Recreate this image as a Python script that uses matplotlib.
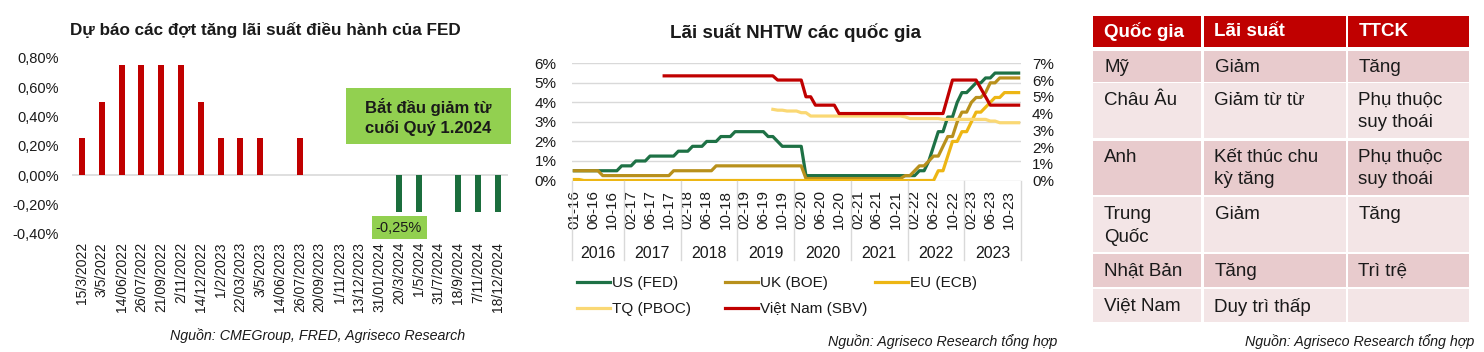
import numpy as np
import pandas as pd
import matplotlib
matplotlib.use('Agg')
import matplotlib.pyplot as plt
from matplotlib.patches import Rectangle
from matplotlib.lines import Line2D
import matplotlib.transforms as mtransforms

plt.rcParams['font.family'] = ['Liberation Sans', 'DejaVu Sans']

# ---- left chart: FED rate moves per meeting
fed_dates = ['15/3/2022', '3/5/2022', '14/06/2022', '26/07/2022', '21/09/2022', '2/11/2022',
             '14/12/2022', '1/2/2023', '22/03/2023', '3/5/2023', '14/06/2023', '26/07/2023',
             '20/09/2023', '1/11/2023', '13/12/2023', '31/01/2024', '20/3/2024', '1/5/2024',
             '31/7/2024', '18/9/2024', '7/11/2024', '18/12/2024']
fed_moves = [0.25, 0.5, 0.75, 0.75, 0.75, 0.75, 0.5, 0.25, 0.25, 0.25, 0, 0.25,
             0, 0, 0, 0, -0.25, -0.25, 0, -0.25, -0.25, -0.25]
fed_yticks = [-0.4, -0.2, 0, 0.2, 0.4, 0.6, 0.8]

# ---- middle chart: central bank rates, monthly (Mar 2016 missing in source)
us_fed = [0.5, 0.5, 0.5, 0.5, 0.5, 0.5, 0.5, 0.5, 0.5, 0.5, 0.75,
          0.75, 0.75, 1.0, 1.0, 1.0, 1.25, 1.25, 1.25, 1.25, 1.25, 1.25, 1.5,
          1.5, 1.5, 1.75, 1.75, 1.75, 2.0, 2.0, 2.0, 2.25, 2.25, 2.25, 2.5,
          2.5, 2.5, 2.5, 2.5, 2.5, 2.5, 2.25, 2.25, 2.0, 1.75, 1.75, 1.75,
          1.75, 1.75, 0.25, 0.25, 0.25, 0.25, 0.25, 0.25, 0.25, 0.25, 0.25, 0.25,
          0.25, 0.25, 0.25, 0.25, 0.25, 0.25, 0.25, 0.25, 0.25, 0.25, 0.25, 0.25,
          0.25, 0.25, 0.5, 0.5, 1.0, 1.75, 2.5, 2.5, 3.25, 3.25, 4.0, 4.5,
          4.5, 4.75, 5.0, 5.0, 5.25, 5.25, 5.5, 5.5, 5.5, 5.5, 5.5, 5.5]
uk_boe = [0.5, 0.5, 0.5, 0.5, 0.5, 0.5, 0.25, 0.25, 0.25, 0.25, 0.25,
          0.25, 0.25, 0.25, 0.25, 0.25, 0.25, 0.25, 0.25, 0.25, 0.25, 0.5, 0.5,
          0.5, 0.5, 0.5, 0.5, 0.5, 0.5, 0.5, 0.75, 0.75, 0.75, 0.75, 0.75,
          0.75, 0.75, 0.75, 0.75, 0.75, 0.75, 0.75, 0.75, 0.75, 0.75, 0.75, 0.75,
          0.75, 0.75, 0.1, 0.1, 0.1, 0.1, 0.1, 0.1, 0.1, 0.1, 0.1, 0.1,
          0.1, 0.1, 0.1, 0.1, 0.1, 0.1, 0.1, 0.1, 0.1, 0.1, 0.1, 0.25,
          0.25, 0.5, 0.75, 0.75, 1.0, 1.25, 1.25, 1.75, 2.25, 2.25, 3.0, 3.5,
          3.5, 4.0, 4.25, 4.25, 4.5, 5.0, 5.0, 5.25, 5.25, 5.25, 5.25, 5.25]
eu_ecb = [0.05, 0.05, 0, 0, 0, 0, 0, 0, 0, 0, 0,
          0, 0, 0, 0, 0, 0, 0, 0, 0, 0, 0, 0,
          0, 0, 0, 0, 0, 0, 0, 0, 0, 0, 0, 0,
          0, 0, 0, 0, 0, 0, 0, 0, 0, 0, 0, 0,
          0, 0, 0, 0, 0, 0, 0, 0, 0, 0, 0, 0,
          0, 0, 0, 0, 0, 0, 0, 0, 0, 0, 0, 0,
          0, 0, 0, 0, 0, 0, 0.5, 0.5, 1.25, 2.0, 2.0, 2.5,
          2.5, 3.0, 3.5, 3.5, 3.75, 4.0, 4.25, 4.25, 4.5, 4.5, 4.5, 4.5]
nan = np.nan
tq_pboc = [nan] * 42 + [4.25, 4.2, 4.2, 4.15, 4.15,
          4.15, 4.05, 4.05, 3.85, 3.85, 3.85, 3.85, 3.85, 3.85, 3.85, 3.85, 3.85,
          3.85, 3.85, 3.85, 3.85, 3.85, 3.85, 3.85, 3.85, 3.85, 3.85, 3.85, 3.8,
          3.7, 3.7, 3.7, 3.7, 3.7, 3.7, 3.7, 3.65, 3.65, 3.65, 3.65, 3.65,
          3.65, 3.65, 3.65, 3.65, 3.65, 3.55, 3.55, 3.45, 3.45, 3.45, 3.45, 3.45]
vn_sbv = [nan] * 19 + [6.25, 6.25, 6.25, 6.25,
          6.25, 6.25, 6.25, 6.25, 6.25, 6.25, 6.25, 6.25, 6.25, 6.25, 6.25, 6.25,
          6.25, 6.25, 6.25, 6.25, 6.25, 6.25, 6.25, 6.25, 6.0, 6.0, 6.0, 6.0,
          6.0, 6.0, 5.0, 5.0, 4.5, 4.5, 4.5, 4.5, 4.5, 4.0, 4.0, 4.0,
          4.0, 4.0, 4.0, 4.0, 4.0, 4.0, 4.0, 4.0, 4.0, 4.0, 4.0, 4.0,
          4.0, 4.0, 4.0, 4.0, 4.0, 4.0, 4.0, 4.0, 5.0, 6.0, 6.0, 6.0,
          6.0, 6.0, 6.0, 5.5, 5.0, 4.5, 4.5, 4.5, 4.5, 4.5, 4.5, 4.5]
months = pd.date_range('2016-01-01', '2023-12-01', freq='MS')
months = months[months != pd.Timestamp('2016-03-01')]

# ---- right table
tbl_header = ['Quốc gia', 'Lãi suất', 'TTCK']
tbl_rows = [['Mỹ', 'Giảm', 'Tăng'],
            ['Châu Âu', 'Giảm từ từ', 'Phụ thuộc\nsuy thoái'],
            ['Anh', 'Kết thúc chu\nkỳ tăng', 'Phụ thuộc\nsuy thoái'],
            ['Trung\nQuốc', 'Giảm', 'Tăng'],
            ['Nhật Bản', 'Tăng', 'Trì trệ'],
            ['Việt Nam', 'Duy trì thấp', '']]

W, H = 1484, 352
fig = plt.figure(figsize=(W / 100, H / 100), dpi=100)


def fx(px):
    return px / W


def fy(py):
    return 1 - py / H


def fmt_pct(v):
    return ('%.2f%%' % v).replace('.', ',')


RED = '#C00000'
DGREEN = '#1B6E3D'
LGREEN = '#92D050'
TXT = '#1a1a1a'

# ================= left chart
ax1 = fig.add_axes([fx(72), fy(233.7), (508 - 72) / W, (233.7 - 57.7) / H])
xs = np.arange(len(fed_dates))
cols = [RED if v > 0 else DGREEN for v in fed_moves]
ax1.bar(xs, fed_moves, width=0.3, color=cols, zorder=2)
ax1.axhline(0, color='#D9D9D9', lw=1.2, zorder=1)
ax1.set_xlim(-0.5, len(fed_dates) - 0.5)
ax1.set_ylim(-0.4, 0.8)
ax1.set_yticks(fed_yticks)
ax1.set_yticklabels([fmt_pct(v) for v in fed_yticks])
ax1.set_xticks(xs)
ax1.set_xticklabels(fed_dates, rotation=90)
ax1.tick_params(axis='y', length=0, pad=9.5, labelsize=10.5, labelcolor=TXT)
ax1.tick_params(axis='x', length=0, pad=6, labelsize=10, labelcolor=TXT)
for s in ax1.spines.values():
    s.set_visible(False)

cut_idx = fed_moves.index(min(fed_moves))
ax1.text(cut_idx, -0.358, fmt_pct(min(fed_moves)), ha='center', va='center', fontsize=10.5,
         color=TXT, bbox=dict(facecolor=LGREEN, edgecolor='none', boxstyle='square,pad=0.3'))

fig.patches.append(Rectangle((fx(346), fy(144)), 165 / W, 56 / H, transform=fig.transFigure,
                             facecolor=LGREEN, edgecolor='none'))
fig.text(fx(428.5), fy(117), 'Bắt đầu giảm từ\ncuối Quý 1.2024', ha='center', va='center',
         fontsize=12, fontweight='bold', color=TXT, linespacing=1.25)

fig.text(fx(265), fy(30), 'Dự báo các đợt tăng lãi suất điều hành của FED', ha='center',
         va='center', fontsize=12.3, fontweight='bold', color=TXT)
fig.text(fx(317.5), fy(336), 'Nguồn: CMEGroup, FRED, Agriseco Research', ha='center',
         va='center', fontsize=10.3, style='italic', color=TXT)

# ================= middle chart
ax2 = fig.add_axes([fx(572), fy(180.5), 449 / W, (180.5 - 63.3) / H])
ax2r = ax2.twinx()
xm = np.arange(len(months))
l_us, = ax2.plot(xm, us_fed, color='#1E7145', lw=2.3, label='US (FED)')
l_uk, = ax2.plot(xm, uk_boe, color='#B8901C', lw=2.3, label='UK (BOE)')
l_eu, = ax2.plot(xm, eu_ecb, color='#EDB614', lw=2.3, label='EU (ECB)')
l_tq, = ax2r.plot(xm, tq_pboc, color='#FAD874', lw=2.3, label='TQ (PBOC)')
l_vn, = ax2r.plot(xm, vn_sbv, color=RED, lw=2.3, label='Việt Nam (SBV)')

ax2.set_xlim(-0.5, len(months) - 0.5)
ax2.set_ylim(0, 6)
ax2r.set_ylim(0, 7)
ax2.set_yticks(range(0, 7))
ax2.set_yticklabels(['%d%%' % v for v in range(0, 7)])
ax2r.set_yticks(range(0, 8))
ax2r.set_yticklabels(['%d%%' % v for v in range(0, 8)])
ax2.grid(axis='y', color='#D9D9D9', lw=1)
ax2.set_axisbelow(True)
ax2.set_xticks(xm[::4])
ax2.set_xticklabels(months[::4].strftime('%m-%y'), rotation=90)
ax2.tick_params(axis='x', length=0, pad=7, labelsize=11, labelcolor=TXT)
ax2.tick_params(axis='y', length=0, pad=11, labelsize=11, labelcolor=TXT)
ax2r.tick_params(axis='y', length=0, pad=8, labelsize=11, labelcolor=TXT)
for a in (ax2, ax2r):
    for s in a.spines.values():
        s.set_visible(False)

# year groups under the month labels
trans = mtransforms.blended_transform_factory(ax2.transData, ax2.transAxes)
years = months.year
edges = [-0.5]
for y in sorted(set(years)):
    idx = np.where(years == y)[0]
    ax2.text((idx[0] + idx[-1]) / 2, -0.62, str(y), transform=trans, ha='center', va='center',
             fontsize=11.5, color=TXT)
    edges.append(idx[-1] + 0.5)
for e in edges:
    ax2.add_line(Line2D([e, e], [0, -0.678], transform=trans, color='#D9D9D9', lw=1, clip_on=False))

leg_cols = [([l_us, l_tq], 577), ([l_uk, l_vn], 725), ([l_eu], 875)]
for handles, px in leg_cols:
    lg = fig.legend(handles=handles, loc='upper left', bbox_to_anchor=(fx(px), fy(276)),
                    frameon=False, fontsize=11, handlelength=2.15, handletextpad=0.15,
                    labelspacing=0.8, borderpad=0, borderaxespad=0)
    for t in lg.get_texts():
        t.set_color(TXT)

fig.text(fx(796), fy(33), 'Lãi suất NHTW các quốc gia', ha='center', va='center',
         fontsize=13.5, fontweight='bold', color=TXT)
fig.text(fx(1057), fy(342), 'Nguồn: Agriseco Research tổng hợp', ha='right', va='center',
         fontsize=10.3, style='italic', color=TXT)

# ================= right table
ax3 = fig.add_axes([0, 0, 1, 1])
ax3.set_xlim(0, W)
ax3.set_ylim(H, 0)
ax3.axis('off')
col_l = [1093, 1203.5, 1347.5]
col_r = [1201, 1345.5, 1469]
row_t = [51, 83.3, 140.7, 197.3, 254, 289]
row_b = [81.7, 138.3, 195, 251.7, 286.7, 321.7]
band = ['#E8CBCD', '#F3E5E6']
for j, h in enumerate(tbl_header):
    ax3.add_patch(Rectangle((col_l[j], 15.7), col_r[j] - col_l[j], 31, facecolor=RED, edgecolor='none'))
    ax3.text(col_l[j] + 11, 32, h, ha='left', va='center', fontsize=13.5, fontweight='bold',
             color='white')
for i, row in enumerate(tbl_rows):
    for j, cell in enumerate(row):
        ax3.add_patch(Rectangle((col_l[j], row_t[i]), col_r[j] - col_l[j], row_b[i] - row_t[i],
                                facecolor=band[i % 2], edgecolor='none'))
        ax3.text(col_l[j] + 11, row_t[i] + 8.5, cell, ha='left', va='top', fontsize=13.5,
                 color=TXT, linespacing=1.38)

fig.text(fx(1474), fy(342), 'Nguồn: Agriseco Research tổng hợp', ha='right', va='center',
         fontsize=10.3, style='italic', color=TXT)

fig.savefig('out.png', dpi=100)
